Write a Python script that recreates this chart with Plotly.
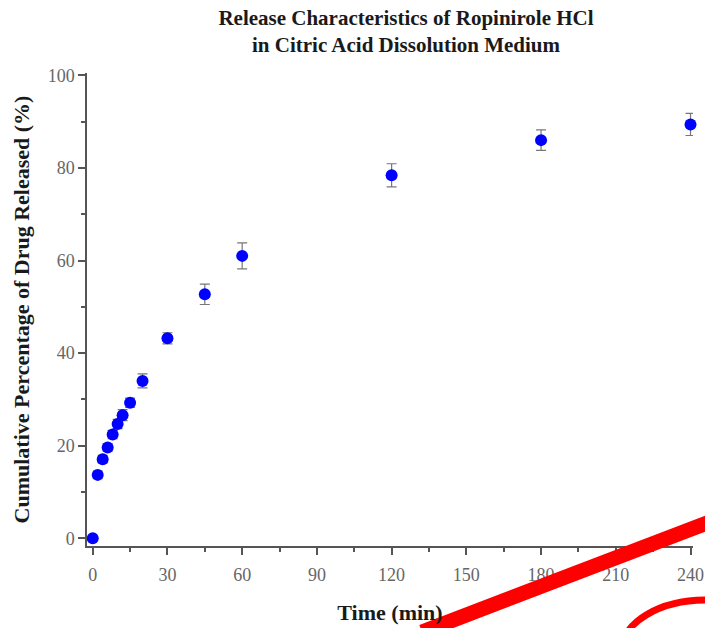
import plotly.graph_objects as go

time_min = [0, 2, 4, 6, 8, 10, 12, 15, 20, 30, 45, 60, 120, 180, 240]
released = [0, 13.7, 17.1, 19.6, 22.4, 24.7, 26.6, 29.3, 34.0, 43.2, 52.7, 61.0, 78.4, 86.0, 89.4]
err = [0.3, 0.8, 0.8, 0.8, 0.9, 1.0, 1.2, 1.0, 1.5, 1.2, 2.2, 2.8, 2.5, 2.2, 2.4]

x_ticks = [0, 30, 60, 90, 120, 150, 180, 210, 240]
y_ticks = [0, 20, 40, 60, 80, 100]

W, H = 705, 628
L, R, T, B = 87, 12, 73, 82
pw, ph = W - L - R, H - T - B

def px(xp):
    return (xp - L) / pw

def py(yp):
    return (H - B - yp) / ph

fig = go.Figure()
fig.add_trace(go.Scatter(
    x=time_min, y=released, mode="markers",
    marker=dict(color="#0000ff", size=12),
    error_y=dict(type="data", array=err, visible=True, color="#777777", thickness=1.2, width=5),
    showlegend=False, cliponaxis=False,
))

tickfont = dict(family="Liberation Serif", size=18, color="#666666")
titlefont = dict(family="Liberation Serif", size=22, color="#1a1a1a")
fig.update_layout(
    width=W, height=H,
    margin=dict(l=L, r=R, t=T, b=B, autoexpand=False),
    paper_bgcolor="white", plot_bgcolor="white",
    font=dict(family="Liberation Serif"),
    xaxis=dict(
        range=[-2.3, 241], tickvals=x_ticks, ticks="outside", ticklen=7, tickwidth=1.5,
        tickcolor="#555555", showline=True, linecolor="#555555", linewidth=1.5,
        showgrid=False, zeroline=False, tickfont=tickfont, ticklabelstandoff=5,
        automargin=False,
        minor=dict(dtick=15, tick0=0, ticks="outside", ticklen=4, tickcolor="#555555", tickwidth=1.5, showgrid=False),
        title=dict(text="<b>Time (min)</b>", font=titlefont, standoff=20),
    ),
    yaxis=dict(
        range=[-1.66, 100.5], tickvals=y_ticks, ticks="outside", ticklen=7, tickwidth=1.5,
        tickcolor="#555555", showline=True, linecolor="#555555", linewidth=1.5,
        showgrid=False, zeroline=False, tickfont=tickfont, automargin=False,
        minor=dict(dtick=10, tick0=0, ticks="outside", ticklen=4, tickcolor="#555555", tickwidth=1.5, showgrid=False),
        title=dict(text="<b>Cumulative Percentage of Drug Released (%)</b>", font=titlefont, standoff=12),
    ),
    title=dict(
        text="<b>Release Characteristics of Ropinirole HCl<br>in Citric Acid Dissolution Medium</b>",
        font=dict(family="Liberation Serif", size=21, color="#1a1a1a"),
        x=406 / W, xanchor="center", xref="container", y=1 - 25 / H, yanchor="middle", yref="container",
    ),
)

# red overlay marks present on the reference image
fig.add_shape(type="line", xref="paper", yref="paper",
              x0=px(422), y0=py(632), x1=px(712), y1=py(521),
              line=dict(color="#ff0000", width=15), layer="above")
fig.add_shape(type="circle", xref="paper", yref="paper",
              x0=px(622), y0=py(600), x1=px(790), y1=py(700),
              line=dict(color="#ff0000", width=7), layer="above")

fig.write_html("out.html")
